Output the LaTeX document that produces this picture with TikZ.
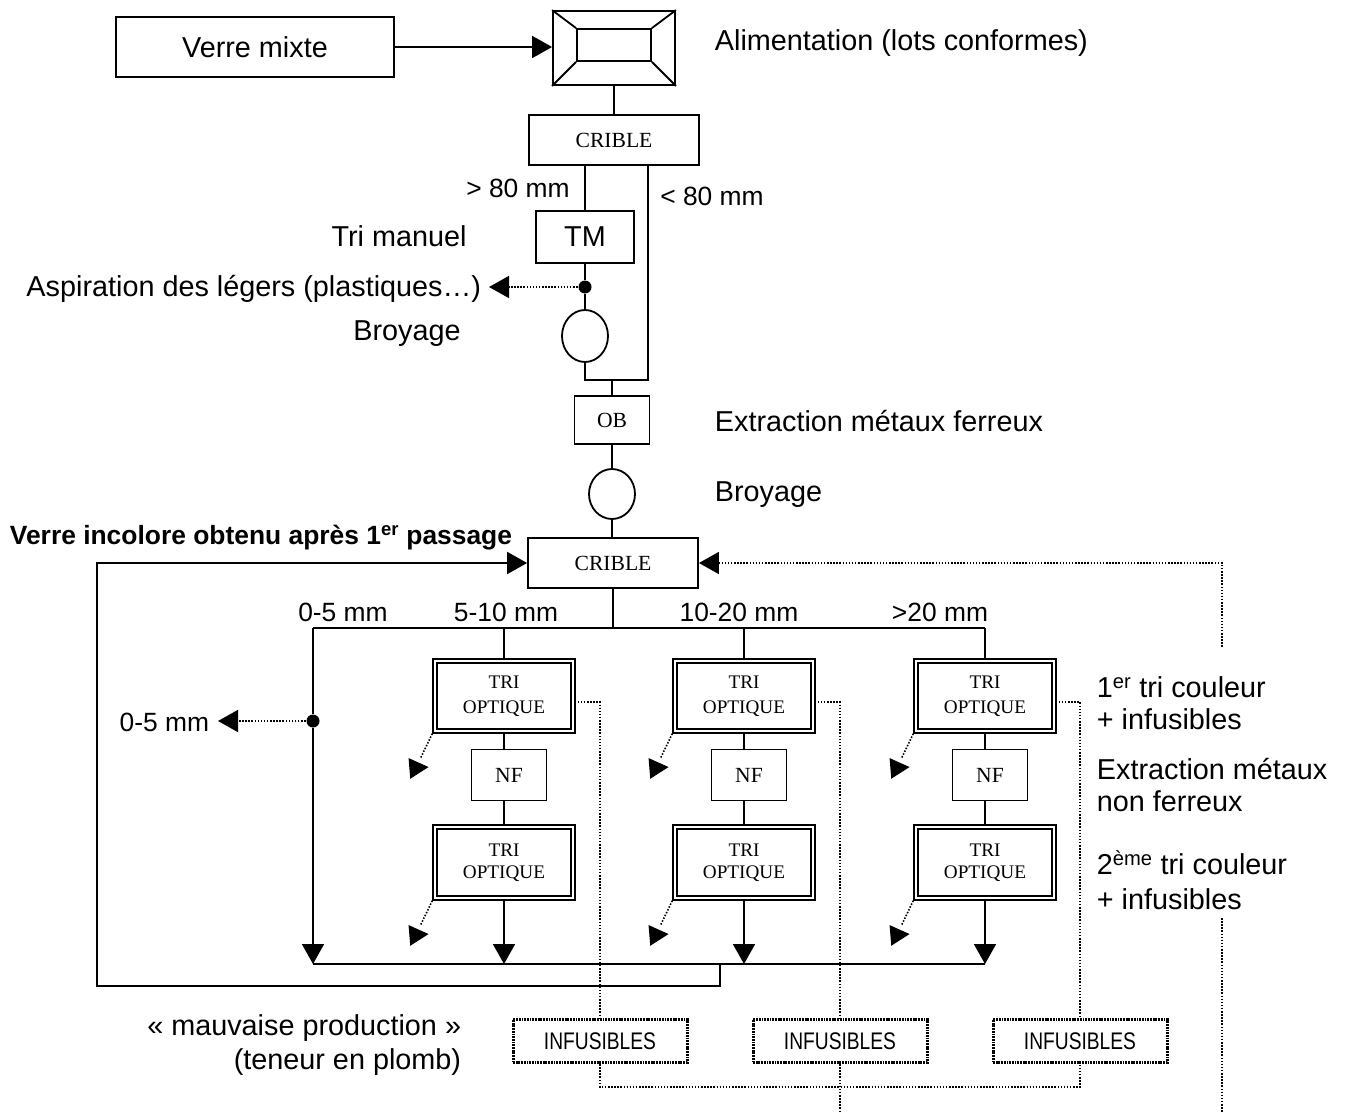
\documentclass[tikz,border=0pt]{standalone}
\usepackage{fontspec}
\usepackage{graphicx}
\setmainfont{Liberation Serif}
\newfontfamily\arialf{Liberation Sans}
\usetikzlibrary{arrows.meta,shapes.geometric}

\tikzset{
  box/.style={draw, line width=1.8pt, inner sep=0pt},
  lbl/.style={font=\arialf\fontsize{28.8}{32}\selectfont, inner sep=0pt},
  sm/.style={font=\arialf\fontsize{26.4}{30}\selectfont, inner sep=0pt},
  serif/.style={font=\fontsize{21.6}{25}\selectfont},
  opt/.style={box, double, double distance=2.6pt, line width=1.5pt,
    minimum width=138pt, align=center, font=\fontsize{19.2}{25}\selectfont},
  arr/.style={-{Triangle[length=20pt,width=22pt]}},
  dotl/.style={line width=1.6pt, dash pattern=on 1.5pt off 1.6pt},
  infu/.style={draw, line width=3pt, dash pattern=on 1.8pt off 0.9pt,
    minimum width=174pt, minimum height=43pt, inner sep=0pt,
    font=\arialf\fontsize{24}{28}\selectfont},
  blob/.style={circle, fill, inner sep=0pt, minimum size=13pt},
  mill/.style={draw, ellipse, minimum width=46pt, minimum height=52pt, inner sep=0pt},
}

\begin{document}
\begin{tikzpicture}[x=1pt, y=-1pt, line width=1.8pt]
\useasboundingbox (0,0) rectangle (1349,1113);

% ---- feed
\node[box, lbl, minimum width=278pt, minimum height=60pt] (mixte) at (255,47) {Verre mixte};
\node[box, minimum width=122pt, minimum height=74pt] (hop) at (614,48) {};
\node[box, minimum width=74pt, minimum height=32pt] (hopin) at (614,45) {};
\draw (hop.north west) -- (hopin.north west);
\draw (hop.north east) -- (hopin.north east);
\draw (hop.south west) -- (hopin.south west);
\draw (hop.south east) -- (hopin.south east);
\draw[arr] (mixte.east) -- (mixte.east -| hop.west);
\node[lbl, anchor=west] (alim) at (714,43) {Alimentation (lots conformes)};

% ---- first screen
\node[box, serif, minimum width=170pt, minimum height=50pt] (crib1) at (614,140) {CRIBLE};
\draw (hop.south) -- (crib1.north);

\node[box, lbl, minimum width=98pt, minimum height=52pt] (tm) at (585,237) {TM};
\node[blob] (d1) at (585,287) {};
\node[mill] (br1) at (585,336) {};
\coordinate (rr) at (648,380);
\coordinate (j1) at (612,380);
\draw (tm |- crib1.south) -- (tm.north);
\draw (tm.south) -- (d1) -- (br1.north);
\draw (br1.south) |- (rr) -- (rr |- crib1.south);

\node[sm] (gt80) at (518,188) {> 80 mm};
\node[sm] (lt80) at (712,196) {< 80 mm};
\node[lbl] (trim) at (399,236) {Tri manuel};
\node[lbl, anchor=east] (asp) at (482,289) {Aspiration des légers (plastiques…)};
\path (asp.east |- d1) ++(7,0) coordinate (ae);
\draw[dotl, arr] (d1) -- (ae);
\node[lbl] (broy1) at (407,334) {Broyage};

% ---- ferrous extraction and second crusher
\node[box, serif, minimum width=75pt, minimum height=48pt] (ob) at (612,420) {OB};
\node[mill, minimum height=50pt] (br2) at (612,494) {};
\node[box, serif, minimum width=170pt, minimum height=50pt] (crib2) at (613,563) {CRIBLE};
\draw (j1) -- (ob.north);
\draw (ob.south) -- (br2.north);
\draw (br2.south) -- (br2.south |- crib2.north);
\node[lbl, anchor=west] (ferr) at (714,421) {Extraction métaux ferreux};
\node[lbl, anchor=west] (broy2) at (714,495) {Broyage};
\node[anchor=west, inner sep=0pt, font=\arialf\bfseries\fontsize{26.4}{30}\selectfont] (incol)
  at (9,538) {Verre incolore obtenu après 1\textsuperscript{er} passage};

% ---- distribution bus
\coordinate (bus) at (613,628);
\coordinate (b0) at (313,628);
\coordinate (b3) at (985,628);
\coordinate (coll) at (313,964);
\coordinate (collr) at (985,964);
\draw (crib2.south) -- (bus);
\draw (b0) -- (b3);
\draw (coll) -- (collr);

\node[sm] (s0) at (343,612) {0-5 mm};
\node[sm] (s1) at (506,612) {5-10 mm};
\node[sm] (s2) at (739,612) {10-20 mm};
\node[sm] (s3) at (940,612) {>20 mm};

% fines branch
\node[blob] (d2) at (313,721) {};
\draw[arr] (b0) -- (d2) -- (coll);
\node[sm, anchor=east] (fine) at (210,722) {0-5 mm};
\path (fine.east |- d2) ++(8,0) coordinate (fe);
\draw[dotl, arr] (d2) -- (fe);

% ---- three sorting lines
\foreach \c/\i/\f in {504/1/600, 744/2/840, 985/3/1080}{
  \node[opt, minimum height=70pt] (ta\i) at (\c,696) {TRI\\OPTIQUE};
  \node[box, serif, minimum width=75pt, minimum height=51pt] (nf\i) at (\c+5,775) {NF};
  \node[opt, minimum height=71pt, font=\fontsize{19.2}{22}\selectfont] (tb\i) at (\c,862.5) {TRI\\OPTIQUE};
  \node[infu] (inf\i) at (\f,1041) {\scalebox{0.8}[1]{INFUSIBLES}};
  \draw (ta\i.north |- bus) -- (ta\i.north);
  \draw (ta\i.south) -- (ta\i.south |- nf\i.north);
  \draw (ta\i.south |- nf\i.south) -- (tb\i.north);
  \draw[arr] (tb\i.south) -- (tb\i.south |- coll);
  \draw[dotl] ([xshift=4pt,yshift=-6pt]ta\i.east) -| (inf\i.north);
}

% rejects of each optical sorter
\foreach \n in {ta1,tb1,ta2,tb2,ta3,tb3}{
  \draw[dotl] ([shift={(-2,2)}]\n.south west) -- ++(-12,25) coordinate (\n-t);
  \fill ([shift={(-11.7,-0.7)}]\n-t) -- ([shift={(8.3,8.3)}]\n-t) -- ([shift={(-10,20)}]\n-t) -- cycle;
}

% infusibles collection
\coordinate (ih) at (840,1087);
\coordinate (iend) at (840,1113);
\draw[dotl] (inf1.south) |- (ih) -| (inf3.south);
\draw[dotl] (inf2.south) -- (iend);

% recycle loop of colourless glass
\coordinate (lp) at (720,964);
\coordinate (lpc) at (97,986);
\draw[arr] (lp) |- (lpc) |- (crib2.west);

% return from second pass
\coordinate (rt) at (1222,563);
\coordinate (rtb) at (1222,648);
\coordinate (rl1) at (1222,918);
\coordinate (rl2) at (1222,1113);
\draw[dotl, {Triangle[length=20pt,width=22pt]}-] (crib2.east) -- (rt) -- (rtb);
\draw[dotl] (rl1) -- (rl2);

% ---- side notes
\node[lbl, anchor=west, align=left] (n1) at (1096,703) {1\textsuperscript{er} tri couleur\\+ infusibles};
\node[lbl, anchor=west, align=left] (n2) at (1096,785) {Extraction métaux\\non ferreux};
\node[lbl, anchor=west, align=left, font=\arialf\fontsize{28.8}{35}\selectfont] (n3) at (1096,880) {2\textsuperscript{ème} tri couleur\\+ infusibles};
\node[lbl, anchor=east, align=right, font=\arialf\fontsize{28.8}{34}\selectfont] (mauv) at (462,1045) {« mauvaise production »\\(teneur en plomb)};
\end{tikzpicture}
\end{document}
